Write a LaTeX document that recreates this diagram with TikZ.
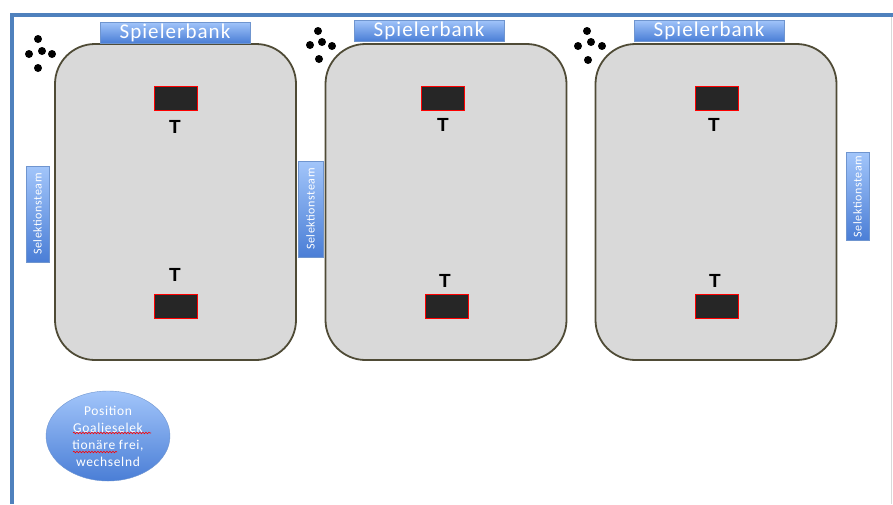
\documentclass[tikz,border=0pt]{standalone}
\usepackage{fontspec}
\setmainfont{Carlito}
\newfontfamily\tfont{Liberation Sans}
\newfontfamily\wfont[LetterSpace=5]{Carlito}
\usetikzlibrary{decorations.pathmorphing,shapes.geometric}
\definecolor{frameblue}{HTML}{4F81BD}
\definecolor{fieldgray}{HTML}{D9D9D9}
\definecolor{fieldline}{HTML}{4F4B36}
\definecolor{goalfill}{HTML}{262626}
\definecolor{btop}{HTML}{A2C5FA}
\definecolor{bbot}{HTML}{4A7ED6}
\definecolor{bline}{HTML}{6F95CF}
\tikzset{
  field/.style={draw=fieldline, line width=1.8pt, fill=fieldgray, rounded corners=40pt,
    minimum width=241pt, minimum height=316pt, inner sep=0pt},
  bank/.style={top color=btop, bottom color=bbot, draw=bline, line width=0.5pt,
    minimum width=150pt, minimum height=21pt, inner sep=0pt, text=white,
    font=\wfont\fontsize{21}{21}\selectfont},
  goal/.style={fill=goalfill, draw=red, line width=1pt, minimum width=43pt, minimum height=24pt, inner sep=0pt},
  tlabel/.style={font=\tfont\bfseries\fontsize{19}{19}\selectfont, inner sep=0pt},
  selbox/.style={top color=btop, bottom color=bbot, draw=bline, line width=0.5pt,
    minimum width=23pt, inner sep=0pt},
  seltext/.style={rotate=90, text=white, font=\wfont\fontsize{12}{12}\selectfont, inner sep=0pt},
  player/.style={circle, fill=black, minimum size=8pt, inner sep=0pt},
  goalie/.style={ellipse, top color=btop, bottom color=bbot, draw=bline, line width=0.4pt,
    minimum width=124pt, minimum height=90pt, inner sep=0pt, text=white, align=center,
    font=\wfont\fontsize{13.5}{17}\selectfont},
  squiggle/.style={red, line width=0.6pt, decorate, decoration={snake, amplitude=0.8pt, segment length=3pt}}
}
\begin{document}
\begin{tikzpicture}[x=1pt, y=-1pt]
\useasboundingbox (0,0) rectangle (893,504);
% frame
\draw[gray!30, line width=1pt] (891,15) -- (891,504);
\draw[frameblue, line width=4pt] (10,15) -- (893,15);
\draw[frameblue, line width=4pt] (12,13) -- (12,504);
% fields
\node[field] (f1) at (175.5,202) {};
\node[field] (f2) at (446,202) {};
\node[field] (f3) at (716,202) {};
% benches
\node[bank] (b1) at (175,32.5) {Spielerbank};
\node[bank] (b2) at (429,30.5) {Spielerbank};
\node[bank] (b3) at (709,30.5) {Spielerbank};
% goals
\node[goal] (g1t) at (175.5,98) {};
\node[goal] (g2t) at (442.5,98) {};
\node[goal] (g3t) at (716.5,98) {};
\node[goal] (g1b) at (175.5,306) {};
\node[goal] (g2b) at (446.5,306) {};
\node[goal] (g3b) at (716.5,306) {};
% T labels
\node[tlabel] (t1t) at (175,127) {T};
\node[tlabel] (t2t) at (443,125) {T};
\node[tlabel] (t3t) at (714,125) {T};
\node[tlabel] (t1b) at (175,275) {T};
\node[tlabel] (t2b) at (445,281) {T};
\node[tlabel] (t3b) at (715,281) {T};
% selection team
\node[selbox, minimum height=96pt] (s1) at (37.5,214) {};
\node[seltext] (s1t) at (s1) {Selektionsteam};
\node[selbox, minimum height=96pt, minimum width=25pt] (s2) at (310.5,209) {};
\node[seltext] (s2t) at (s2) {Selektionsteam};
\node[selbox, minimum height=88pt] (s3) at (857.5,196.5) {};
\node[seltext] (s3t) at (s3) {Selektionsteam};
% players
\node[player] (p1a) at (38,39) {};
\node[player] (p1b) at (29,54) {};
\node[player] (p1c) at (42,51) {};
\node[player] (p1d) at (52,54) {};
\node[player] (p1e) at (38,68) {};
\node[player] (p2a) at (318,31) {};
\node[player] (p2b) at (310,45) {};
\node[player] (p2c) at (322,42) {};
\node[player] (p2d) at (332,46) {};
\node[player] (p2e) at (319,59) {};
\node[player] (p3a) at (587,31) {};
\node[player] (p3b) at (578,46) {};
\node[player] (p3c) at (591,42) {};
\node[player] (p3d) at (602,46) {};
\node[player] (p3e) at (588,60) {};
% goalie position
\node[goalie] (gp) at (108,436) {Position\\Goalieselek\\tionäre frei,\\wechselnd};
\draw[squiggle] (73,433) -- (151,433);
\draw[squiggle] (73,452) -- (117,452);
\end{tikzpicture}
\end{document}
